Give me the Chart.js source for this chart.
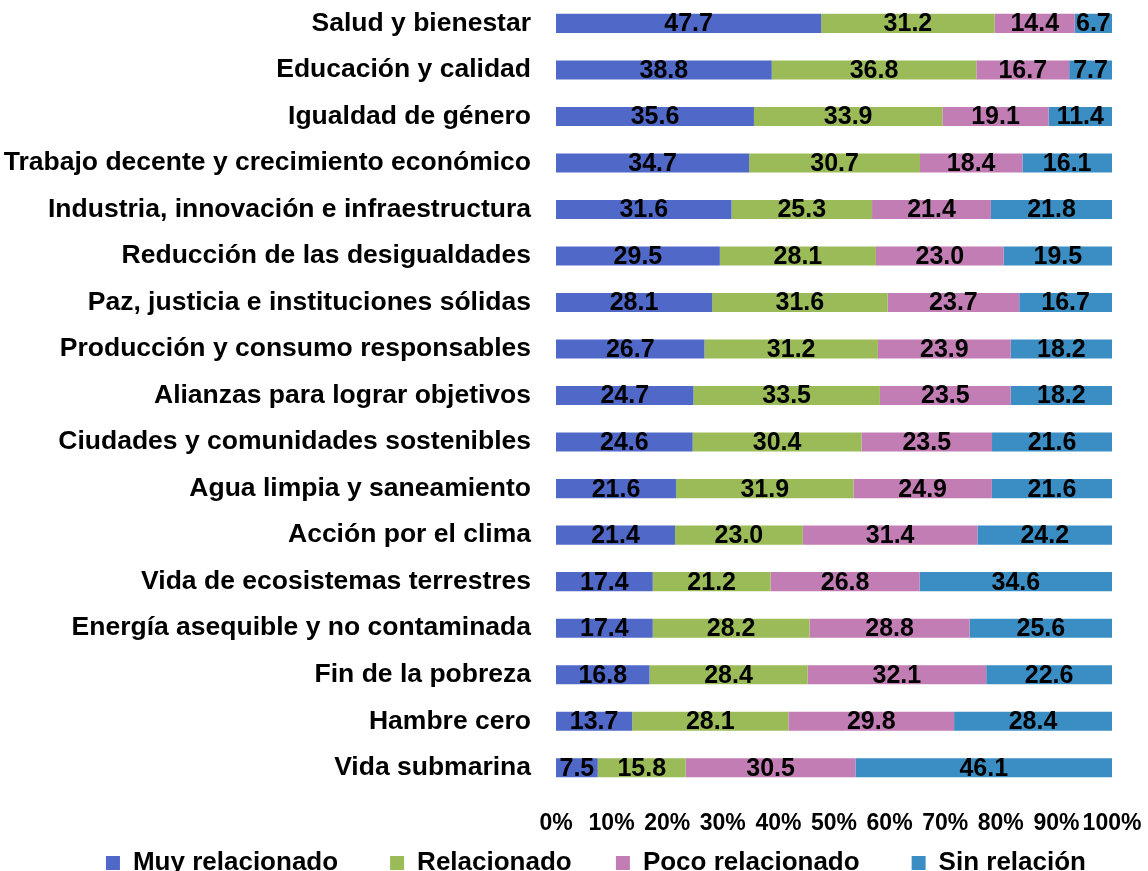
<!DOCTYPE html>
<html>
<head>
<meta charset="utf-8">
<script src="https://cdn.jsdelivr.net/npm/chart.js@4"></script>
<style>
  html, body { margin: 0; padding: 0; background: #fff; }
  #wrap { width: 1148px; height: 871px; }
</style>
</head>
<body>
<div id="wrap"><canvas id="odsChart"></canvas></div>
<script>
const categories = [
    'Salud y bienestar',
    'Educación y calidad',
    'Igualdad de género',
    'Trabajo decente y crecimiento económico',
    'Industria, innovación e infraestructura',
    'Reducción de las desigualdades',
    'Paz, justicia e instituciones sólidas',
    'Producción y consumo responsables',
    'Alianzas para lograr objetivos',
    'Ciudades y comunidades sostenibles',
    'Agua limpia y saneamiento',
    'Acción por el clima',
    'Vida de ecosistemas terrestres',
    'Energía asequible y no contaminada',
    'Fin de la pobreza',
    'Hambre cero',
    'Vida submarina'
];

const muyRelacionado = [47.7, 38.8, 35.6, 34.7, 31.6, 29.5, 28.1, 26.7, 24.7, 24.6, 21.6, 21.4, 17.4, 17.4, 16.8, 13.7, 7.5];
const relacionado = [31.2, 36.8, 33.9, 30.7, 25.3, 28.1, 31.6, 31.2, 33.5, 30.4, 31.9, 23.0, 21.2, 28.2, 28.4, 28.1, 15.8];
const pocoRelacionado = [14.4, 16.7, 19.1, 18.4, 21.4, 23.0, 23.7, 23.9, 23.5, 23.5, 24.9, 31.4, 26.8, 28.8, 32.1, 29.8, 30.5];
const sinRelacion = [6.7, 7.7, 11.4, 16.1, 21.8, 19.5, 16.7, 18.2, 18.2, 21.6, 21.6, 24.2, 34.6, 25.6, 22.6, 28.4, 46.1];

const seriesNames = ['Muy relacionado', 'Relacionado', 'Poco relacionado', 'Sin relación'];
const seriesColors = ['#5068c8', '#9bbb59', '#c27db4', '#3b8ec4'];
const xTicks = [0, 10, 20, 30, 40, 50, 60, 70, 80, 90, 100];

const FONT = "'Liberation Sans', Arial, sans-serif";

// 100% stacked: normalise each row, keep the raw value for the label
const allSeries = [muyRelacionado, relacionado, pocoRelacionado, sinRelacion];
const rowTotals = categories.map((c, i) => allSeries.reduce((s, arr) => s + arr[i], 0));

const datasets = allSeries.map((arr, k) => ({
    label: seriesNames[k],
    data: arr.map((v, i) => v / rowTotals[i] * 100),
    raw: arr,
    backgroundColor: seriesColors[k],
    borderWidth: 0,
    barPercentage: 0.41,
    categoryPercentage: 1
}));

const barLabels = {
    id: 'barLabels',
    afterDatasetsDraw(chart) {
        const ctx = chart.ctx;
        ctx.save();
        ctx.font = 'bold 25px ' + FONT;
        ctx.fillStyle = '#000';
        ctx.textAlign = 'center';
        ctx.textBaseline = 'middle';
        chart.data.datasets.forEach((ds, k) => {
            const meta = chart.getDatasetMeta(k);
            meta.data.forEach((bar, i) => {
                const cx = (bar.x + bar.base) / 2;
                ctx.fillText(ds.raw[i].toFixed(1), cx, bar.y + 1);
            });
        });
        ctx.restore();
    }
};

// trailing spaces after each legend entry (the legend gaps are uneven)
const en = '\u2002';
const legendGaps = [en.repeat(4), en.repeat(3) + '\u2009', en.repeat(4), en.repeat(2)];

new Chart(document.getElementById('odsChart'), {
    type: 'bar',
    data: { labels: categories, datasets: datasets },
    options: {
        indexAxis: 'y',
        responsive: true,
        maintainAspectRatio: false,
        animation: false,
        layout: { padding: { left: 0, right: 36, top: 0, bottom: -15 } },
        scales: {
            x: {
                stacked: true,
                min: 0,
                max: 100,
                afterBuildTicks(scale) {
                    scale.ticks = xTicks.map(v => ({ value: v }));
                },
                grid: { display: false, drawTicks: true, tickLength: 7 },
                border: { display: false },
                ticks: {
                    autoSkip: false,
                    maxRotation: 0,
                    padding: 0,
                    color: '#000',
                    font: { family: FONT, size: 23, weight: 'bold', lineHeight: 52 / 23 },
                    callback: v => v + '%'
                }
            },
            y: {
                stacked: true,
                grid: { display: false, drawTicks: true, tickLength: 25 },
                border: { display: false },
                afterFit(scale) { scale.width = 556; },
                ticks: {
                    autoSkip: false,
                    padding: 0,
                    color: '#000',
                    font: { family: FONT, size: 26.5, weight: 'bold', lineHeight: 0.01 }
                }
            }
        },
        plugins: {
            tooltip: { enabled: false },
            legend: {
                position: 'bottom',
                align: 'end',
                labels: {
                    boxWidth: 14,
                    boxHeight: 14,
                    padding: 0,
                    color: '#000',
                    font: { family: FONT, size: 26, weight: 'bold' },
                    generateLabels(chart) {
                        return chart.data.datasets.map((ds, k) => ({
                            text: ds.label + legendGaps[k],
                            fillStyle: ds.backgroundColor,
                            strokeStyle: ds.backgroundColor,
                            lineWidth: 0,
                            fontColor: '#000',
                            hidden: false,
                            datasetIndex: k
                        }));
                    }
                }
            }
        }
    },
    plugins: [barLabels]
});
</script>
</body>
</html>
